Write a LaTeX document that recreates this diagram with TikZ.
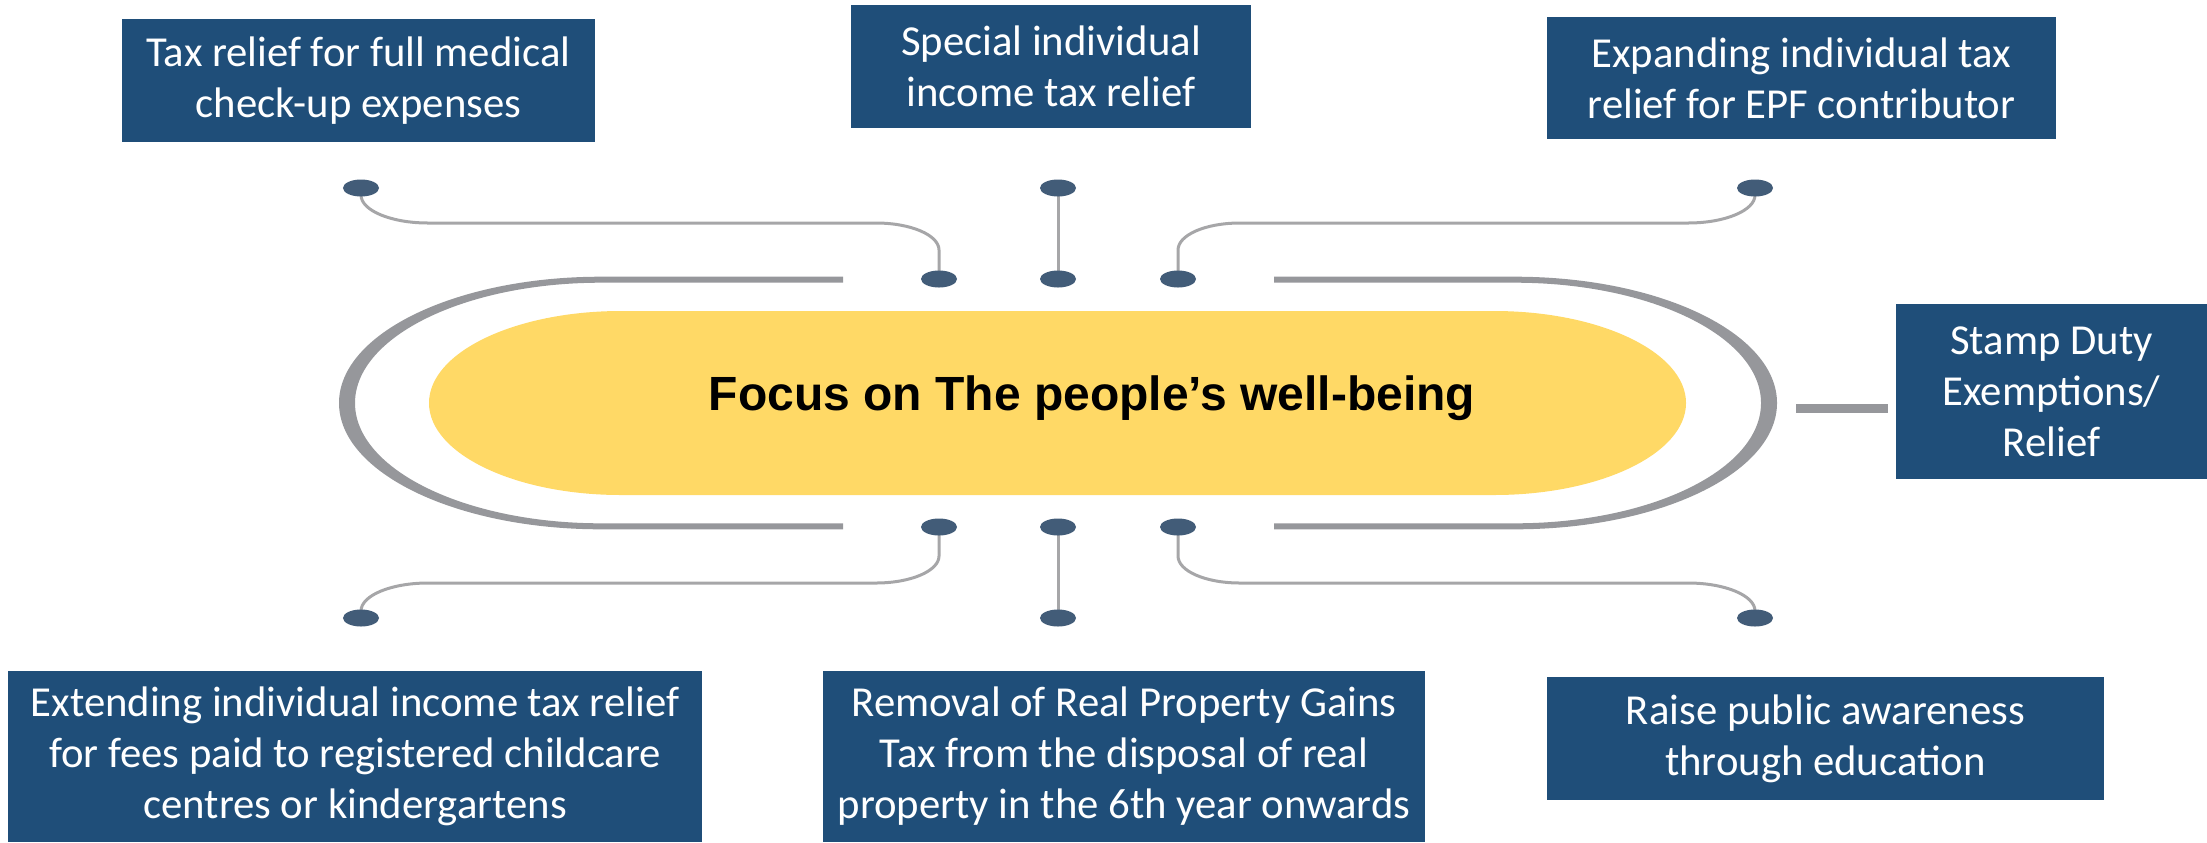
\documentclass[tikz,border=0pt]{standalone}
\usepackage{fontspec}
\setmainfont{Carlito}
\newfontfamily\titlefont{Liberation Sans}
\usetikzlibrary{shapes.geometric,calc}
\definecolor{boxblue}{HTML}{1F4E79}
\definecolor{yel}{HTML}{FFD966}
\definecolor{ringc}{HTML}{96979B}
\definecolor{connc}{HTML}{A6A6A8}
\definecolor{dotc}{HTML}{425C78}
\begin{document}
\begin{tikzpicture}[x=0.01cm, y=-0.01cm,
  box/.style={fill=boxblue, text=white, inner sep=0pt, align=center,
    font=\fontsize{12.15pt}{14.5pt}\selectfont},
  dotnode/.style={ellipse, fill=dotc, minimum width=0.36cm, minimum height=0.17cm, inner sep=0pt},
  conn/.style={draw=connc, line width=0.03cm},
  stub/.style={draw=ringc, line width=0.09cm},
]
\useasboundingbox (0,0) rectangle (2207,842);

% outer ring, left and right pieces
\fill[ringc] (843,276.7) -- (601,276.7)
  .. controls (456.3,276.7) and (339,333.2) .. (339,403)
  .. controls (339,472.8) and (456.3,529.3) .. (601,529.3)
  -- (843,529.3) -- (843,523.3) -- (601,523.3)
  .. controls (465.1,523.3) and (355,469.4) .. (355,403)
  .. controls (355,336.6) and (465.1,282.7) .. (601,282.7)
  -- (843,282.7) -- cycle;
\fill[ringc] (1274,276.7) -- (1515,276.7)
  .. controls (1659.7,276.7) and (1777,333.2) .. (1777,403)
  .. controls (1777,472.8) and (1659.7,529.3) .. (1515,529.3)
  -- (1274,529.3) -- (1274,523.3) -- (1515,523.3)
  .. controls (1650.9,523.3) and (1761,469.4) .. (1761,403)
  .. controls (1761,336.6) and (1650.9,282.7) .. (1515,282.7)
  -- (1274,282.7) -- cycle;

% yellow centre
\fill[yel] (621,311) -- (1494,311)
  .. controls (1600,311) and (1686,352.2) .. (1686,403)
  .. controls (1686,453.8) and (1600,495) .. (1494,495)
  -- (621,495)
  .. controls (515,495) and (429,453.8) .. (429,403)
  .. controls (429,352.2) and (515,311) .. (621,311) -- cycle;
\node[font=\titlefont\bfseries\fontsize{13.65pt}{16pt}\selectfont, anchor=base, inner sep=0pt]
  (title) at (1092,410) {Focus on The people’s well-being};

% dot positions
\coordinate (tl1) at (361,188);  \coordinate (tl2) at (939,279);
\coordinate (tc1) at (1058,188); \coordinate (tc2) at (1058,279);
\coordinate (tr1) at (1755,188); \coordinate (tr2) at (1178,279);
\coordinate (bl1) at (939,527);  \coordinate (bl2) at (361,618);
\coordinate (bc1) at (1058,527); \coordinate (bc2) at (1058,618);
\coordinate (br1) at (1178,527); \coordinate (br2) at (1755,618);

% connectors
\draw[conn] (tl1) -- (361,195) .. controls (361,210.5) and (391,223) .. (428,223)
  -- (876,223) .. controls (910.8,223) and (939,235.1) .. (939,250) -- (tl2);
\draw[conn] (tc1) -- (tc2);
\draw[conn] (tr1) -- (1755,195) .. controls (1755,210.5) and (1725,223) .. (1688,223)
  -- (1240,223) .. controls (1205.2,223) and (1178,235.1) .. (1178,250) -- (tr2);
\draw[conn] (bl1) -- (939,556) .. controls (939,570.9) and (910.8,583) .. (876,583)
  -- (428,583) .. controls (391,583) and (361,595.5) .. (361,611) -- (bl2);
\draw[conn] (bc1) -- (bc2);
\draw[conn] (br1) -- (1178,556) .. controls (1178,570.9) and (1205.2,583) .. (1240,583)
  -- (1688,583) .. controls (1725,583) and (1755,595.5) .. (1755,611) -- (br2);

% dots
\foreach \d in {tl1,tl2,tc1,tc2,tr1,tr2,bl1,bl2,bc1,bc2,br1,br2}
  \node[dotnode] (n\d) at (\d) {};

% boxes
\node[box, minimum width=4.73cm, minimum height=1.23cm] (b1) at (358.5,80.5)
  {Tax relief for full medical\\check-up expenses};
\node[box, minimum width=4.00cm, minimum height=1.22cm] (b2) at (1051,66.5)
  {Special individual\\income tax relief};
\node[box, minimum width=5.09cm, minimum height=1.22cm] (b3) at (1801.5,78)
  {Expanding individual tax\\relief for EPF contributor};
\node[box, minimum width=3.11cm, minimum height=1.75cm] (b4) at (2051.5,391.5)
  {Stamp Duty\\Exemptions/\\Relief};
\node[box, minimum width=6.94cm, minimum height=1.71cm] (b5) at (355,756.5)
  {Extending individual income tax relief\\for fees paid to registered childcare\\centres or kindergartens};
\node[box, minimum width=6.02cm, minimum height=1.71cm] (b6) at (1124,756.5)
  {Removal of Real Property Gains\\Tax from the disposal of real\\property in the 6th year onwards};
\node[box, minimum width=5.57cm, minimum height=1.23cm] (b7) at (1825.5,738.5)
  {Raise public awareness\\through education};

% stub to the stamp duty box
\coordinate (sa) at (1796,408.5);
\draw[stub] (sa) -- ($(b4.west |- sa)+(-7,0)$);
\end{tikzpicture}
\end{document}
